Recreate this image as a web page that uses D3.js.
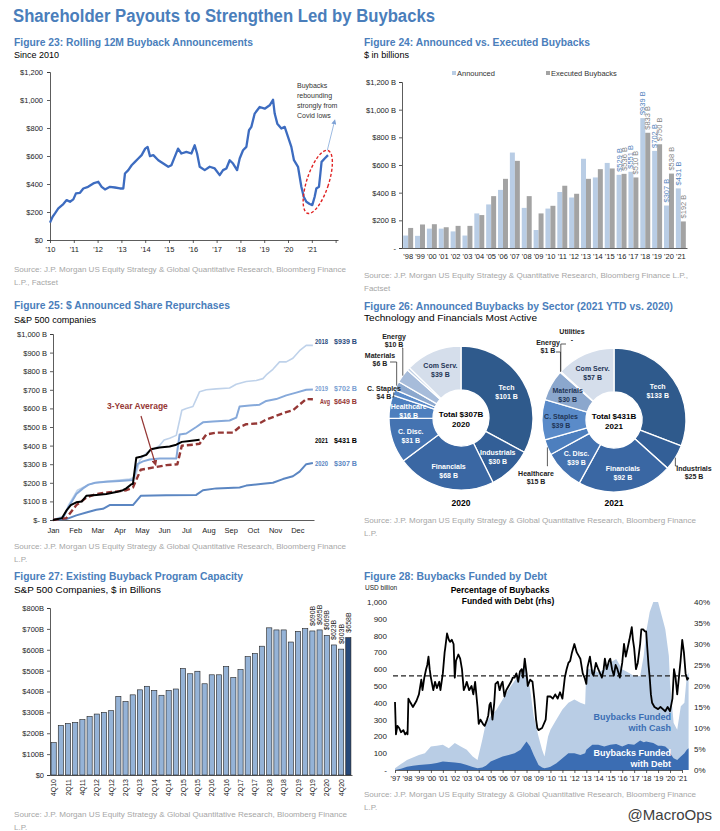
<!DOCTYPE html>
<html>
<head>
<meta charset="utf-8">
<script src="https://cdn.jsdelivr.net/npm/d3@7"></script>
<style>
body{margin:0;background:#fff;}
svg text{font-family:"Liberation Sans",Arial,sans-serif;}
</style>
</head>
<body>
<script>
// ---- Figure 23: rolling 12M buyback announcements ($bn)
var years23 = [2010.0,2010.11,2010.21,2010.35,2010.56,2010.7,2010.84,2010.98,2011.09,2011.26,2011.4,2011.6,2011.82,2012.03,2012.17,2012.31,2012.52,2012.73,2012.94,2013.08,2013.15,2013.29,2013.43,2013.57,2013.71,2013.85,2014.0,2014.1,2014.2,2014.34,2014.55,2014.76,2014.97,2015.1,2015.24,2015.38,2015.52,2015.73,2015.94,2016.08,2016.18,2016.29,2016.5,2016.71,2016.92,2017.13,2017.27,2017.41,2017.55,2017.69,2017.86,2017.97,2018.11,2018.25,2018.36,2018.46,2018.6,2018.81,2019.02,2019.23,2019.37,2019.44,2019.55,2019.72,2019.86,2020.0,2020.14,2020.25,2020.42,2020.56,2020.66,2020.77,2020.91,2021.02,2021.12,2021.19,2021.3,2021.36,2021.41,2021.54,2021.68];
var buyback23 = [124,166,190,226,257,285,273,290,333,337,368,380,404,416,380,361,380,375,368,368,475,499,534,558,582,606,653,665,599,606,570,546,523,534,594,653,618,629,618,677,618,523,499,523,511,463,499,511,570,546,499,582,641,665,784,808,903,950,938,962,1002,903,831,796,808,736,665,570,523,380,309,273,257,249,309,368,380,475,558,582,606];

// ---- Figure 24: announced vs executed ($bn)
var years24 = ["'98","'99","'00","'01","'02","'03","'04","'05","'06","'07","'08","'09","'10","'11","'12","'13","'14","'15","'16","'17","'18","'19","'20","'21"];
var announced24 = [90,88,140,140,120,90,250,315,420,690,290,130,285,405,365,645,510,615,529,551,939,702,307,431];
var executed24 = [145,170,172,150,160,160,238,375,500,630,375,250,305,450,392,500,570,575,536,510,833,750,538,192];
var labelled24 = ["'16","'17","'18","'19","'20","'21"];

// ---- Figure 25: cumulative announced repurchases by month-of-year ($bn)
var months25 = ["Jan","Feb","Mar","Apr","May","Jun","Jul","Aug","Sep","Oct","Nov","Dec"];
var m2018 = [0,0.2,0.5,0.7,0.9,1.1,1.35,1.6,1.9,2.2,2.55,3.0,3.45,3.7,3.9,4.2,4.5,4.8,5.0,5.25,5.55,5.8,6.0,6.3,6.45,6.6,6.9,7.35,7.95,8.25,8.7,9.15,9.45,9.6,9.9,10.2,10.5,10.8,11.1,11.4,11.7];
var v2018 = [0,10,20,80,120,160,175,190,200,205,210,215,220,230,320,360,380,400,430,440,455,590,600,610,650,690,700,705,710,730,745,750,760,780,810,850,850,870,910,939,939];
var m2019 = [0,0.45,0.7,1.05,1.35,1.6,1.9,2.4,3.0,3.6,3.8,4.05,4.35,4.8,5.55,5.7,6.0,6.45,6.75,7.2,7.95,8.25,8.4,8.85,9.3,9.6,10.05,10.5,10.95,11.4,11.7];
var v2019 = [0,10,70,140,170,190,200,205,210,215,300,315,325,330,330,460,465,500,525,530,535,550,610,615,620,640,650,670,685,700,702];
var m2020 = [0,0.6,1.05,1.5,1.95,2.25,2.55,3.6,3.95,5.1,6.45,6.75,7.35,8.4,8.7,9.45,9.9,10.35,10.8,11.1,11.4,11.7];
var v2020 = [0,5,25,40,55,60,80,80,130,133,135,160,170,175,185,195,200,220,235,260,300,307];
var mAvg = [0,0.6,1.05,1.5,1.95,2.55,3.0,3.3,3.6,3.95,4.65,5.1,5.6,5.8,6.3,6.6,6.9,7.35,8.1,8.4,8.7,9.3,9.6,10.05,10.5,10.8,11.1,11.4,11.7];
var vAvg = [0,10,80,120,140,150,155,160,175,270,285,295,300,400,405,410,460,470,470,500,515,520,540,560,580,590,620,650,649];
var m2021 = [0,0.4,0.6,0.8,1.05,1.3,1.5,1.95,2.4,2.85,3.15,3.3,3.5,3.6,3.75,3.95,4.2,4.4,4.8,5.25,5.55,5.8,6.15,6.6];
var v2021 = [0,10,50,80,95,100,130,135,140,150,160,170,190,195,335,340,350,380,390,395,405,420,425,431];

// ---- Figure 26: announced buybacks by sector ($bn)
var sectors26 = ["Tech","Industrials","Financials","C. Disc.","Healthcare","C. Staples","Materials","Energy","Utilities","Com Serv."];
var sector2020 = [101,30,68,31,16,4,6,10,2,39];
var sector2021 = [133,25,92,39,15,39,30,1,0,57];
var sectorColors = ["#2f5a8c","#335f97","#3a67a3","#4473b1","#4d7fbe","#5a8bc9","#8ba7cd","#a7bcda","#c6d4e7","#d5deeb"];

// ---- Figure 27: existing buyback program capacity ($bn)
var quarters27 = ["4Q10","1Q11","2Q11","3Q11","4Q11","1Q12","2Q12","3Q12","4Q12","1Q13","2Q13","3Q13","4Q13","1Q14","2Q14","3Q14","4Q14","1Q15","2Q15","3Q15","4Q15","1Q16","2Q16","3Q16","4Q16","1Q17","2Q17","3Q17","4Q17","1Q18","2Q18","3Q18","4Q18","1Q19","2Q19","3Q19","4Q19","1Q20","2Q20","3Q20","4Q20","1Q21"];
var capacity27 = [155,237,247,252,265,280,292,300,308,377,352,384,408,425,405,382,405,412,510,485,497,437,480,480,520,467,505,567,582,617,705,695,695,637,688,701,690,695,669,623,603,658];

// ---- Figure 28: buybacks funded by debt
var years28 = [1997,1997.5,1998,1998.5,1999,1999.5,2000,2000.5,2001,2001.5,2002,2002.5,2003,2003.5,2003.9,2004.3,2004.6,2005,2005.5,2006,2006.5,2007,2007.5,2007.8,2008,2008.3,2008.6,2009,2009.3,2009.5,2009.8,2010,2010.5,2011,2011.5,2012,2012.5,2012.9,2013,2013.5,2014,2014.5,2015,2015.5,2016,2016.5,2017,2017.5,2017.8,2018,2018.3,2018.6,2019,2019.3,2019.6,2019.9,2020,2020.3,2020.6,2020.9,2021.2,2021.4,2021.55];
var total28 = [10,35,60,75,90,100,140,145,150,130,160,140,120,80,60,180,280,320,360,420,480,530,580,620,600,480,320,200,120,80,200,240,300,360,400,420,400,390,600,600,580,600,640,660,600,580,560,560,680,820,940,1000,1000,920,840,680,520,280,240,380,400,560,580];
var debt28 = [0,8,20,25,30,32,35,42,50,47,45,40,30,18,10,15,25,50,65,80,90,100,120,150,170,140,90,30,15,10,15,20,40,70,100,100,90,100,120,150,150,140,150,155,140,155,150,175,165,170,165,160,145,145,140,120,100,70,60,80,100,120,130];
var pctYears28 = [1997.0,1997.08,1997.2,1997.35,1997.5,1997.7,1997.85,1998.0,1998.05,1998.12,1998.3,1998.5,1998.8,1999.0,1999.2,1999.3,1999.45,1999.6,1999.7,1999.8,1999.9,2000.0,2000.2,2000.35,2000.5,2000.7,2000.8,2001.0,2001.15,2001.2,2001.35,2001.5,2001.6,2001.75,2001.9,2002.0,2002.1,2002.3,2002.45,2002.6,2002.75,2002.9,2003.0,2003.2,2003.4,2003.55,2003.7,2003.9,2004.0,2004.15,2004.35,2004.5,2004.7,2004.8,2004.9,2005.0,2005.15,2005.3,2005.4,2005.6,2005.75,2005.9,2006.0,2006.15,2006.3,2006.5,2006.7,2006.85,2007.0,2007.15,2007.3,2007.45,2007.6,2007.7,2007.85,2008.0,2008.1,2008.3,2008.5,2008.65,2008.8,2008.9,2009.0,2009.3,2009.6,2009.75,2010.0,2010.2,2010.4,2010.6,2010.8,2011.0,2011.2,2011.35,2011.5,2011.65,2011.8,2012.0,2012.2,2012.4,2012.5,2012.7,2012.85,2013.0,2013.1,2013.3,2013.5,2013.6,2013.8,2014.0,2014.15,2014.3,2014.45,2014.55,2014.7,2014.9,2015.0,2015.15,2015.3,2015.45,2015.6,2015.8,2016.0,2016.15,2016.3,2016.45,2016.6,2016.8,2016.9,2017.0,2017.15,2017.3,2017.5,2017.6,2017.75,2017.9,2018.0,2018.1,2018.2,2018.3,2018.4,2018.5,2018.7,2019.0,2019.2,2019.4,2019.6,2019.8,2020.0,2020.2,2020.33,2020.46,2020.6,2020.74,2020.88,2021.02,2021.16,2021.3,2021.44,2021.55];
var pct28 = [16.2,8.5,10.5,10,9,9.5,8.5,9,8.5,17,16,15,16.5,18,21.5,19,22,24,25,27,24,22,19,21,19.5,21,19,23,28,29,32.5,31,30.5,31,30,22,26,27.5,26.5,24,19,20,21,19,20,18,21,15,11,12,11,10.5,12,13,15.5,16,12,16,20.5,21,19,20.5,21,17.5,19,20,21,22,22,23,21,23.5,24,22,26.5,23,20,21.5,21,17,12,10,9.5,10,12,17.5,17.5,17,18,17,18.5,17,22,24,25.5,26,28,30,28,27,26.5,23,22,20.5,24.5,27,23,22.5,25.5,24,23,22,24,26.5,24,26,26.5,24,22.5,25,24,22,25.5,30,27,29,31,34,31,29,24,25.5,30,33.5,33.5,33,33,29,25,22,18,16,15,14.5,15,14.5,14,15,14,17,24,22,18,22,26,31,28,23,21.5,22];
var avgPct28 = 22.4;

var BLUE = "#4a7ebb";
var svg = d3.select("body").append("svg").attr("width", 720).attr("height", 831);
svg.append("rect").attr("width", 720).attr("height", 831).attr("fill", "#fff");

function label(g, x, y, s, size, o){
	o = o || {};
	var t = g.append("text").attr("x", x).attr("y", y).text(s)
		.style("font-size", size + "px")
		.style("fill", o.fill || "#000");
	if(o.bold) t.style("font-weight", "bold");
	if(o.anchor) t.attr("text-anchor", o.anchor);
	if(o.w) t.attr("textLength", o.w).attr("lengthAdjust", "spacingAndGlyphs");
	return t;
}

function styleAxis(a, size){
	a.attr("font-size", size).attr("font-family", '"Liberation Sans",Arial,sans-serif');
	a.select(".domain").attr("stroke", "#333").attr("stroke-width", 0.8);
	a.selectAll(".tick line").attr("stroke", "#333").attr("stroke-width", 0.8);
	a.selectAll(".tick text").attr("fill", "#222");
}

function source(x, y, w, second){
	label(svg, x, y, "Source: J.P. Morgan US Equity Strategy & Global Quantitative Research, Bloomberg Finance", 8, {fill: "#a6a6a6", w: w});
	if(second) label(svg, x, y + 13, second, 8, {fill: "#a6a6a6"});
}

// titles
label(svg, 13, 22, "Shareholder Payouts to Strengthen Led by Buybacks", 18, {bold: true, fill: BLUE, w: 422});

// ================= Figure 23
label(svg, 14, 46, "Figure 23: Rolling 12M Buyback Announcements", 11, {bold: true, fill: BLUE, w: 239});
label(svg, 14, 58, "Since 2010", 9.5, {w: 45});

var x23 = d3.scaleLinear().domain([2010, 2022.1]).range([50, 338]);
var y23 = d3.scaleLinear().domain([0, 1200]).range([240, 72]);
var ax = svg.append("g").attr("transform", "translate(50,0)")
	.call(d3.axisLeft(y23).tickValues(d3.range(0, 1201, 200)).tickFormat(d3.format("$,")).tickSize(3).tickPadding(4));
styleAxis(ax, 7.5);
ax = svg.append("g").attr("transform", "translate(0,240)")
	.call(d3.axisBottom(x23).tickValues(d3.range(2010, 2023)).tickFormat(function(d){ return d < 2022 ? "'" + String(d).slice(2) : ""; }).tickSize(3).tickSizeOuter(0).tickPadding(4));
styleAxis(ax, 7.5);

svg.append("path").datum(years23)
	.attr("fill", "none").attr("stroke", "#3d6cc0").attr("stroke-width", 2.3).attr("stroke-linejoin", "round")
	.attr("d", d3.line().x(function(d){ return x23(d); }).y(function(d, i){ return y23(buyback23[i]); }));

svg.append("ellipse").attr("cx", x23(2021.25)).attr("cy", y23(415)).attr("rx", 11).attr("ry", 33)
	.attr("transform", "rotate(18," + x23(2021.25) + "," + y23(415) + ")")
	.attr("fill", "none").attr("stroke", "#e02424").attr("stroke-width", 1.4).attr("stroke-dasharray", "3,2");
svg.append("defs").append("marker").attr("id", "arr").attr("viewBox", "0 0 10 10").attr("refX", 5).attr("refY", 5)
	.attr("markerWidth", 5).attr("markerHeight", 5).attr("orient", "auto")
	.append("path").attr("d", "M0,0 L10,5 L0,10 z").attr("fill", "#7ea2d6");
svg.append("line").attr("x1", x23(2021.65)).attr("y1", y23(640)).attr("x2", x23(2021.95)).attr("y2", y23(845))
	.attr("stroke", "#9dbbe2").attr("stroke-width", 1).attr("marker-end", "url(#arr)");
["Buybacks", "rebounding", "strongly from", "Covid lows"].forEach(function(s, i){
	label(svg, 297, 88 + i * 10, s, 7, {fill: "#333"});
});
source(14, 272, 332, "L.P., Factset");

// ================= Figure 24
label(svg, 364, 46, "Figure 24: Announced vs. Executed Buybacks", 11, {bold: true, fill: BLUE, w: 226});
label(svg, 364, 58, "$ in billions", 9.5, {w: 45});

var x24 = d3.scaleBand().domain(years24).range([402, 687]).paddingInner(0.16).paddingOuter(0.1);
var y24 = d3.scaleLinear().domain([0, 1200]).range([248, 82]);
ax = svg.append("g").attr("transform", "translate(402,0)")
	.call(d3.axisLeft(y24).tickValues(d3.range(0, 1201, 200)).tickFormat(function(d){ return d === 0 ? "-" : "$" + d3.format(",")(d) + " B"; }).tickSize(3).tickPadding(3));
styleAxis(ax, 7.5);
ax = svg.append("g").attr("transform", "translate(0,248)")
	.call(d3.axisBottom(x24).tickSize(0).tickPadding(6));
styleAxis(ax, 7.5);

var bw24 = x24.bandwidth() / 2;
var g24 = svg.append("g");
g24.selectAll("rect.ann").data(years24).enter().append("rect")
	.attr("x", function(d){ return x24(d); }).attr("width", bw24)
	.attr("y", function(d, i){ return y24(announced24[i]); })
	.attr("height", function(d, i){ return 248 - y24(announced24[i]); })
	.attr("fill", "#b9cde5");
g24.selectAll("rect.exe").data(years24).enter().append("rect")
	.attr("x", function(d){ return x24(d) + bw24; }).attr("width", bw24)
	.attr("y", function(d, i){ return y24(executed24[i]); })
	.attr("height", function(d, i){ return 248 - y24(executed24[i]); })
	.attr("fill", "#a3a3a3");
years24.forEach(function(d, i){
	if(labelled24.indexOf(d) < 0) return;
	[[announced24[i], 0, "#4f81bd"], [executed24[i], bw24, "#7f7f7f"]].forEach(function(p){
		var cx = x24(d) + p[1] + bw24 / 2 + 2.5, cy = y24(p[0]) - 3;
		g24.append("text").attr("transform", "translate(" + cx + "," + cy + ") rotate(-90)")
			.text("$" + p[0] + " B").style("font-size", "7.5px").style("fill", p[2]);
	});
});
g24.append("rect").attr("x", 452).attr("y", 71).attr("width", 4).attr("height", 4).attr("fill", "#b9cde5");
label(g24, 457, 76, "Announced", 7.5, {fill: "#333"});
g24.append("rect").attr("x", 546).attr("y", 71).attr("width", 4).attr("height", 4).attr("fill", "#a3a3a3");
label(g24, 551, 76, "Executed Buybacks", 7.5, {fill: "#333"});
label(svg, 364, 278, "Source: J.P. Morgan US Equity Strategy & Quantitative Research, Bloomberg Finance L.P.,", 8, {fill: "#a6a6a6", w: 324});
label(svg, 364, 291, "Factset", 8, {fill: "#a6a6a6"});

// ================= Figure 25
label(svg, 14, 309, "Figure 25: $ Announced Share Repurchases", 11, {bold: true, fill: BLUE, w: 216});
label(svg, 14, 323, "S&P 500 companies", 9.5, {w: 82});

var x25 = d3.scaleLinear().domain([0, 11.75]).range([53, 314]);
var y25 = d3.scaleLinear().domain([0, 1000]).range([520, 334]);
ax = svg.append("g").attr("transform", "translate(53,0)")
	.call(d3.axisLeft(y25).tickValues(d3.range(0, 1001, 100)).tickFormat(function(d){ return d === 0 ? "$- B" : "$" + d3.format(",")(d) + " B"; }).tickSize(3).tickPadding(3));
styleAxis(ax, 7.5);
ax = svg.append("g").attr("transform", "translate(0,520)")
	.call(d3.axisBottom(x25).tickValues(d3.range(0, 12)).tickFormat(function(d){ return months25[d]; }).tickSize(0).tickSizeOuter(0).tickPadding(8));
styleAxis(ax, 7.5);

function line25(ms, vs, color, width, dash){
	var p = svg.append("path").datum(ms)
		.attr("fill", "none").attr("stroke", color).attr("stroke-width", width).attr("stroke-linejoin", "round")
		.attr("d", d3.line().x(function(d){ return x25(d); }).y(function(d, i){ return y25(vs[i]); }));
	if(dash) p.attr("stroke-dasharray", dash);
}
line25(m2018, v2018, "#bfd2ea", 1.6);
line25(m2019, v2019, "#86a9da", 2);
line25(m2020, v2020, "#5b86c2", 2);
line25(mAvg, vAvg, "#953735", 2.4, "6,3");
line25(m2021, v2021, "#000", 2);

// end labels: [name, value text, value, colour, nudge, name x, name width]
[["2018", "$939 B", 939, "#2b4c7e", -4, 315, 13], ["2019", "$702 B", 702, "#7aa0d2", -1, 315, 13], ["Avg", "$649 B", 649, "#953735", 2, 320, 10],
 ["2021", "$431 B", 431, "#000", 0, 315, 13], ["2020", "$307 B", 307, "#5b86c2", 0, 315, 13]].forEach(function(r){
	var yy = y25(r[2]) + 3 + r[4];
	label(svg, r[5], yy, r[0], 7.5, {bold: true, fill: r[3], w: r[6]});
	label(svg, 334, yy, r[1], 7.5, {bold: true, fill: r[3], w: 23});
});
label(svg, 107, 409, "3-Year Average", 8.5, {bold: true, fill: "#953735"});
svg.append("defs").append("marker").attr("id", "arr2").attr("viewBox", "0 0 10 10").attr("refX", 5).attr("refY", 5)
	.attr("markerWidth", 5).attr("markerHeight", 5).attr("orient", "auto")
	.append("path").attr("d", "M0,0 L10,5 L0,10 z").attr("fill", "#953735");
svg.append("line").attr("x1", 141).attr("y1", 416).attr("x2", x25(4.6)).attr("y2", y25(305))
	.attr("stroke", "#953735").attr("stroke-width", 1.2).attr("marker-end", "url(#arr2)");
source(14, 549, 332, "L.P.");

// ================= Figure 26
label(svg, 364, 310, "Figure 26: Announced Buybacks by Sector (2021 YTD vs. 2020)", 11, {bold: true, fill: BLUE, w: 309});
label(svg, 364, 321, "Technology and Financials Most Active", 9.5, {w: 173});

var darkText = ["Com Serv.", "Materials", "C. Staples"];
var outside2020 = {"Energy": [394, 337, 402, 348], "Materials": [380, 356, 390, 362], "C. Staples": [384, 389, 392, 397]};
var outside2021 = {"Energy": [548, 343, 556, 352], "Utilities": [572, 332, 566, 344], "Healthcare": [536, 474, 547, 466], "Industrials": [694, 469, 678, 466]};

function donut(cx, cy, values, total, year, outside){
	var g = svg.append("g").attr("transform", "translate(" + cx + "," + cy + ")");
	var arcs = d3.pie().sort(null).value(function(d){ return d; })(values);
	var arc = d3.arc().innerRadius(28).outerRadius(72);
	var mid = d3.arc().innerRadius(53).outerRadius(53);
	g.selectAll("path").data(arcs).enter().append("path")
		.attr("d", arc).attr("fill", function(d, i){ return sectorColors[i]; })
		.attr("stroke", "#fff").attr("stroke-width", 1.3);
	arcs.forEach(function(a, i){
		var name = sectors26[i], val = values[i] ? "$" + values[i] + " B" : "-";
		if(outside[name]){
			var o = outside[name], ang = (a.startAngle + a.endAngle) / 2;
			var px = cx + 72 * Math.sin(ang), py = cy - 72 * Math.cos(ang);
			svg.append("path").attr("d", "M" + o[2] + "," + o[3] + "L" + px + "," + o[3] + "L" + px + "," + py)
				.attr("fill", "none").attr("stroke", "#333").attr("stroke-width", 0.8);
			label(svg, o[0], o[1] + 2, name, 7, {bold: true, fill: "#222", anchor: "middle"});
			label(svg, o[0], o[1] + 10, val, 7, {bold: true, fill: "#222", anchor: "middle"});
		} else if(values[i] >= 15){
			var c = mid.centroid(a);
			var col = darkText.indexOf(name) >= 0 ? "#1f3556" : "#fff";
			label(g, c[0], c[1] - 1, name, 7, {bold: true, fill: col, anchor: "middle"});
			label(g, c[0], c[1] + 8, val, 7, {bold: true, fill: col, anchor: "middle"});
		}
	});
	label(g, 0, -1, "Total $" + total + "B", 8, {bold: true, anchor: "middle"});
	label(g, 0, 9, year, 8, {bold: true, anchor: "middle"});
	label(svg, cx, 506, year, 8.5, {bold: true, anchor: "middle"});
}
donut(461, 418, sector2020, 307, "2020", outside2020);
donut(614, 420, sector2021, d3.sum(sector2021), "2021", outside2021);
source(364, 523, 332, "L.P.");

// ================= Figure 27
label(svg, 14, 580, "Figure 27: Existing Buyback Program Capacity", 11, {bold: true, fill: BLUE, w: 229});
label(svg, 14, 593, "S&P 500 Companies, $ in Billions", 9.5, {w: 147});

var x27 = d3.scaleBand().domain(quarters27).range([50, 352]).paddingInner(0.28).paddingOuter(0.15);
var y27 = d3.scaleLinear().domain([0, 800]).range([775, 608]);
ax = svg.append("g").attr("transform", "translate(50,0)")
	.call(d3.axisLeft(y27).tickValues(d3.range(0, 801, 100)).tickFormat(function(d){ return d === 0 ? "$0" : "$" + d + "B"; }).tickSize(3).tickPadding(3));
styleAxis(ax, 7.5);
ax = svg.append("g").attr("transform", "translate(0,775)")
	.call(d3.axisBottom(x27).tickValues([]).tickSizeOuter(0));
styleAxis(ax, 7);
var g27 = svg.append("g");
g27.selectAll("rect").data(quarters27).enter().append("rect")
	.attr("x", function(d){ return x27(d); }).attr("width", x27.bandwidth())
	.attr("y", function(d, i){ return y27(capacity27[i]); })
	.attr("height", function(d, i){ return 775 - y27(capacity27[i]); })
	.attr("fill", function(d, i){ return i === quarters27.length - 1 ? "#27497a" : "#95b3d7"; })
	.attr("stroke", "#1f1f1f").attr("stroke-width", 0.6);
quarters27.forEach(function(d, i){
	var cx = x27(d) + x27.bandwidth() / 2;
	if(i % 2 === 0){
		g27.append("text").attr("transform", "translate(" + (cx + 2.5) + ",779) rotate(-90)")
			.attr("text-anchor", "end").text(d).style("font-size", "7px").style("fill", "#222");
	}
	if(i >= quarters27.length - 6){
		g27.append("text").attr("transform", "translate(" + (cx + 2.5) + "," + (y27(capacity27[i]) - 5) + ") rotate(-90)")
			.text("$" + capacity27[i] + "B").style("font-size", "7px").style("fill", "#222");
	}
});
source(14, 817, 333, "L.P.");

// ================= Figure 28
label(svg, 364, 580, "Figure 28: Buybacks Funded by Debt", 11, {bold: true, fill: BLUE, w: 183});
label(svg, 365, 590, "USD billion", 6.5, {fill: "#222"});

var x28 = d3.scaleLinear().domain([1997, 2021]).range([395, 682]);
var y28 = d3.scaleLinear().domain([0, 1000]).range([770, 602]);
var r28 = d3.scaleLinear().domain([0, 40]).range([770, 602]);
svg.append("path").datum(years28).attr("fill", "#b9cde5")
	.attr("d", d3.area().x(function(d){ return x28(d); }).y0(770).y1(function(d, i){ return y28(total28[i]); }));
svg.append("path").datum(years28).attr("fill", "#3b6db3")
	.attr("d", d3.area().x(function(d){ return x28(d); }).y0(770).y1(function(d, i){ return y28(debt28[i]); }));
svg.append("line").attr("x1", 393).attr("x2", 688).attr("y1", r28(avgPct28)).attr("y2", r28(avgPct28))
	.attr("stroke", "#222").attr("stroke-width", 1.1).attr("stroke-dasharray", "5,3");
svg.append("path").datum(pctYears28).attr("fill", "none").attr("stroke", "#000").attr("stroke-width", 1.8).attr("stroke-linejoin", "round")
	.attr("d", d3.line().x(function(d){ return x28(d); }).y(function(d, i){ return r28(pct28[i]); }));

ax = svg.append("g").attr("transform", "translate(393,0)")
	.call(d3.axisLeft(y28).tickValues(d3.range(0, 1001, 100)).tickFormat(function(d){ return d === 0 ? "-" : d3.format(",")(d); }).tickSize(0).tickPadding(6));
styleAxis(ax, 8);
ax.select(".domain").remove();
ax = svg.append("g").attr("transform", "translate(688,0)")
	.call(d3.axisRight(r28).tickValues(d3.range(0, 41, 5)).tickFormat(function(d){ return d + "%"; }).tickSize(0).tickPadding(6));
styleAxis(ax, 8);
ax.select(".domain").remove();
ax = svg.append("g").attr("transform", "translate(0,770)")
	.call(d3.axisBottom(x28).tickValues(d3.range(1997, 2022)).tickFormat(function(d){ return "'" + String(d).slice(2); }).tickSize(3).tickSizeOuter(0).tickPadding(3));
styleAxis(ax, 7.5);

label(svg, 500, 593, "Percentage of Buybacks", 8.5, {bold: true, anchor: "middle"});
label(svg, 508, 604, "Funded with Debt (rhs)", 8.5, {bold: true, anchor: "middle"});
label(svg, 671, 720, "Buybacks Funded", 9, {bold: true, fill: "#3b6db3", anchor: "end"});
label(svg, 671, 731, "with Cash", 9, {bold: true, fill: "#3b6db3", anchor: "end"});
label(svg, 671, 756, "Buybacks Funded", 9, {bold: true, fill: "#fff", anchor: "end"});
label(svg, 671, 767, "with Debt", 9, {bold: true, fill: "#fff", anchor: "end"});
source(364, 797, 332, "L.P.");
label(svg, 712, 820, "@MacroOps", 15, {fill: "#404040", anchor: "end"});
</script>
</body>
</html>
